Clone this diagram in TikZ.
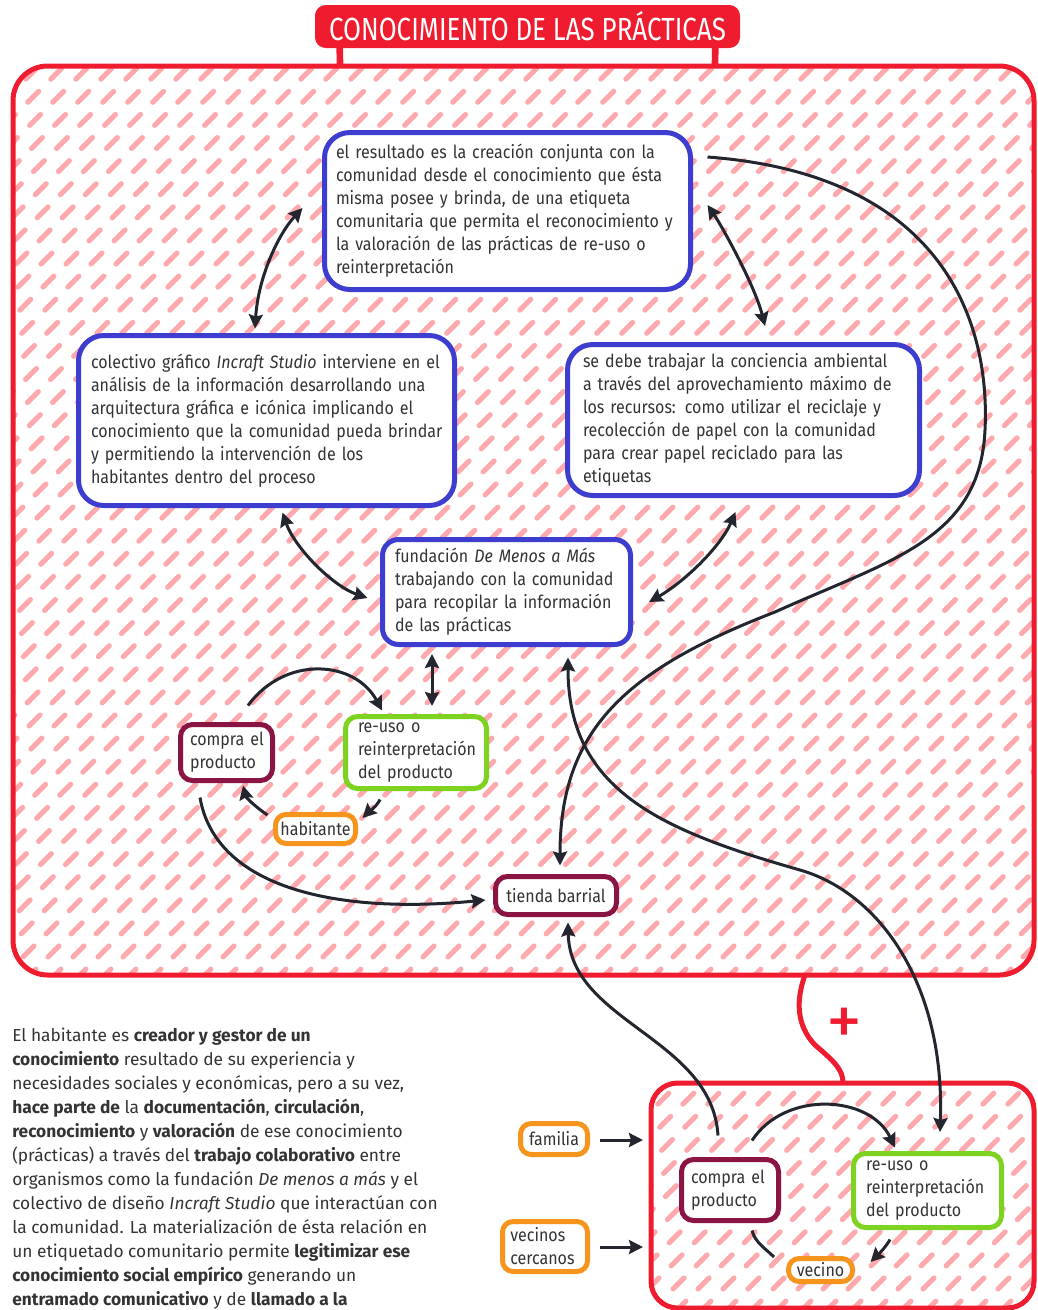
\documentclass[tikz,border=0pt]{standalone}
\usepackage{fontspec}
\setmainfont{Fira Sans}
\newfontfamily\boxfont[FakeStretch=0.89]{Fira Sans}
\newfontfamily\titlefont[FakeStretch=0.81]{Fira Sans}
\newfontfamily\parafont{Fira Sans}
\usetikzlibrary{arrows.meta,calc}
\definecolor{cred}{HTML}{EE1C2E}
\definecolor{cpink}{HTML}{FDA9AE}
\definecolor{cblue}{HTML}{3D3DD0}
\definecolor{cmaroon}{HTML}{8A1444}
\definecolor{cgreen}{HTML}{7ED321}
\definecolor{corange}{HTML}{F7941D}
\definecolor{carrow}{HTML}{23262E}
\definecolor{ctext}{HTML}{333333}
\tikzset{
  >={Stealth[length=10.5pt,width=10.5pt,inset=1.5pt]},
  bx/.style={fill=white, line width=3.75pt, align=left, inner sep=0pt, text=ctext,
    font=\boxfont\fontsize{13.5}{17.25}\selectfont},
  bluebox/.style={bx, draw=cblue, rounded corners=19pt},
  marbox/.style={bx, draw=cmaroon, rounded corners=9pt},
  grnbox/.style={bx, draw=cgreen, rounded corners=9pt},
  orgbox/.style={bx, draw=corange, rounded corners=8pt},
  arr/.style={draw=carrow, line width=2.25pt, ->},
  darr/.style={draw=carrow, line width=2.25pt, <->},
  plain/.style={draw=carrow, line width=2.25pt},
  hatch/.style={draw=cpink, line width=3.9pt, line cap=round, dash pattern=on 11.5pt off 13pt},
  redline/.style={draw=cred, line width=3.75pt},
  para/.style={align=left, inner sep=0pt, text=ctext, font=\parafont\fontsize{13}{18}\selectfont}
}
\begin{document}
\begin{tikzpicture}[x=0.75pt,y=-0.75pt]
\useasboundingbox (0,0) rectangle (1038,1310);
\clip (0,0) rectangle (1038,1310);

% ---------- hatched containers ----------
\coordinate (mainNW) at (13,66);
\coordinate (mainSE) at (1034,975);
\coordinate (botNW) at (651,1083);
\coordinate (botSE) at (1034,1308);
\begin{scope}
  \clip[rounded corners=26pt] (mainNW) rectangle (mainSE);
  \foreach \i in {-37,...,42} {\draw[hatch] (\i*25,980) -- ++(920,-920);}
\end{scope}
\begin{scope}
  \clip[rounded corners=20pt] (botNW) rectangle (botSE);
  \foreach \i in {17,...,42} {\draw[hatch] (\i*25,1312) -- ++(240,-240);}
\end{scope}
\draw[redline, rounded corners=26pt] (mainNW) rectangle (mainSE);
\draw[redline, rounded corners=20pt] (botNW) rectangle (botSE);

% ---------- title ----------
\node[fill=cred, rounded corners=8pt, minimum width=318.75pt, minimum height=32.25pt,
      inner sep=0pt, text=white, font=\titlefont\fontsize{24}{24}\selectfont] (title) at (527.5,26.5)
      {CONOCIMIENTO DE LAS PRÁCTICAS};
\coordinate (stemL) at (340,66);
\coordinate (stemR) at (715,66);
\draw[cred, line width=5pt] ($(title.south west)+(25,-2)$) -- (stemL);
\draw[cred, line width=5pt] ($(title.south east)+(-25,-2)$) -- (stemR);

% ---------- plus connector ----------
\coordinate (plusA) at (805,975);
\coordinate (plusB) at (843,1083);
\draw[redline] (plusA) .. controls (796,1000) and (796,1025) .. (815,1045)
   .. controls (835,1062) and (843,1070) .. (plusB);
\node[text=cred, font=\parafont\fontsize{54}{54}\selectfont, inner sep=0pt] (plus) at (844,1027) {+};

% ---------- nodes ----------
\node[bluebox, minimum width=274.5pt, minimum height=117.75pt, text width=257.25pt] (top) at (507.5,211)
 {\mbox{el resultado es la creación conjunta con la}\\
  \mbox{comunidad desde el conocimiento que ésta}\\
  \mbox{misma posee y brinda, de una etiqueta}\\
  \mbox{comunitaria que permita el reconocimiento y}\\
  \mbox{la valoración de las prácticas de re-uso o}\\
  \mbox{reinterpretación}};

\node[bluebox, minimum width=282pt, minimum height=127.5pt, text width=263.25pt] (left) at (266.5,420.5)
 {\mbox{colectivo gráfico {\itshape Incraft Studio} interviene en el}\\
  \mbox{análisis de la información desarrollando una}\\
  \mbox{arquitectura gráfica e icónica implicando el}\\
  \mbox{conocimiento que la comunidad pueda brindar}\\
  \mbox{y permitiendo la intervención de los}\\
  \mbox{habitantes dentro del proceso}};

\node[bluebox, minimum width=264pt, minimum height=113.25pt, text width=240.75pt] (right) at (743.5,420)
 {\mbox{se debe trabajar la conciencia ambiental}\\
  \mbox{a través del aprovechamiento máximo de}\\
  \mbox{los recursos: como utilizar el reciclaje y}\\
  \mbox{recolección de papel con la comunidad}\\
  \mbox{para crear papel reciclado para las}\\
  \mbox{etiquetas}};

\node[bluebox, rounded corners=12pt, minimum width=186pt, minimum height=78.75pt, text width=167.25pt] (fund) at (506.5,592)
 {\mbox{fundación {\itshape De Menos a Más}}\\
  \mbox{trabajando con la comunidad}\\
  \mbox{para recopilar la información}\\
  \mbox{de las prácticas}};

\node[marbox, minimum width=69pt, minimum height=42pt, text width=54.75pt] (compraA) at (226.5,752.5)
 {\mbox{compra el}\\\mbox{producto}};
\node[grnbox, minimum width=105.75pt, minimum height=54pt, text width=87pt] (reusoA) at (416,752.5)
 {\mbox{re-uso o}\\\mbox{reinterpretación}\\\mbox{del producto}};
\node[orgbox, minimum width=60pt, minimum height=21.75pt] (habitante) at (315.5,829) {habitante};
\node[marbox, minimum width=90.75pt, minimum height=28.5pt] (tienda) at (556,895.5) {tienda barrial};

\node[marbox, minimum width=72.75pt, minimum height=45.75pt, text width=58.5pt] (compraB) at (730,1190)
 {\mbox{compra el}\\\mbox{producto}};
\node[grnbox, minimum width=111pt, minimum height=55.5pt, text width=92pt] (reusoB) at (927.5,1190.5)
 {\mbox{re-uso o}\\\mbox{reinterpretación}\\\mbox{del producto}};
\node[orgbox, minimum width=48pt, minimum height=17.25pt] (vecino) at (820.5,1270) {vecino};
\node[orgbox, minimum width=50.25pt, minimum height=23.25pt] (familia) at (554,1139) {familia};
\node[orgbox, minimum width=63.75pt, minimum height=37.5pt, text width=52pt] (vecinos) at (545,1246.5)
 {\mbox{vecinos}\\\mbox{cercanos}};

% ---------- paragraph ----------
\node[para, anchor=north west] (para) at (12,1028)
 {El habitante es \textbf{creador y gestor de un}\\
  \textbf{conocimiento} resultado de su experiencia y\\
  necesidades sociales y económicas, pero a su vez,\\
  \textbf{hace parte de} la \textbf{documentación}, \textbf{circulación},\\
  \textbf{reconocimiento} y \textbf{valoración} de ese conocimiento\\
  (prácticas) a través del \textbf{trabajo colaborativo} entre\\
  organismos como la fundación \textit{De menos a más} y el\\
  colectivo de diseño \textit{Incraft Studio} que interactúan con\\
  la comunidad. La materialización de ésta relación en\\
  un etiquetado comunitario permite \textbf{legitimizar ese}\\
  \textbf{conocimiento social empírico} generando un\\
  \textbf{entramado comunicativo} y de \textbf{llamado a la}};

% ---------- connectors ----------
\draw[darr] ($(top.west)+(-19.5,-3)$) .. controls +(-25,27) and +(3,-50) .. ($(left.north)+(-11.5,-4.5)$);
\draw[darr] ($(top.east)+(14.5,-6)$) .. controls +(15,22) and +(-10,-40) .. ($(right.north)+(21.5,-16)$);
\draw[darr] ($(left.south)+(16,4.5)$) .. controls +(12,35) and +(-35,-12) .. ($(fund.west)+(-12.5,6)$);
\draw[darr] ($(right.south)+(-8,14)$) .. controls +(-15,35) and +(35,-20) .. ($(fund.east)+(16,10)$);
\draw[darr] ($(fund.south)+(-74.5,7)$) -- ($(reusoA.north)+(16,-8)$);

\draw[arr] ($(top.east)+(14.5,-54)$) .. controls (950,175) and (990,330) .. (985,430)
   .. controls (980,540) and (890,560) .. (775,612)
   .. controls (625,670) and (560,730) .. ($(tienda.north)+(4,-8.5)$);

\draw[darr] ($(fund.south)+(61.5,10.5)$) .. controls (568,790) and (660,830) .. (800,870)
   .. controls (880,893) and (945,985) .. ($(reusoB.north)+(12.5,-19)$);

\draw[arr] ($(compraB.north)+(-12,-21.5)$) .. controls +(-6,-98) and +(2,100) .. ($(tienda.south)+(12,5.5)$);
\draw[arr] ($(compraA.south)+(-26.5,14.5)$) .. controls (215,885) and (330,915) .. ($(tienda.west)+(-7.5,4.5)$);

\draw[arr] ($(compraA.north)+(21.5,-16.5)$) .. controls (285,655) and (355,660) .. ($(reusoA.north)+(-34,-3.5)$);
\draw[arr] ($(reusoA.south)+(-36,8.5)$) .. controls +(-4,8) and +(6,-6) .. ($(habitante.east)+(4.5,-11)$);
\draw[arr] ($(habitante.west)+(-5.5,-14)$) .. controls +(-12,-8) and +(3,12) .. ($(compraA.south)+(16.5,2.5)$);

\draw[arr] ($(compraB.north)+(22,-16.5)$) .. controls (785,1090) and (870,1095) .. ($(reusoB.north)+(-32.5,-3.5)$);
\draw[arr] ($(reusoB.south)+(-37.5,9.5)$) .. controls +(-5,9) and +(7,-7) .. ($(vecino.east)+(15.5,-8)$);
\draw[plain] ($(compraB.south)+(22,7.5)$) .. controls +(3,12) and +(-8,-8) .. ($(vecino.west)+(-12,-13)$);

\draw[arr] ($(familia.east)+(9.5,1)$) -- ($(familia.east)+(53,1)$);
\draw[arr] ($(vecinos.east)+(9.5,0.5)$) -- ($(vecinos.east)+(53,0.5)$);
\end{tikzpicture}
\end{document}
